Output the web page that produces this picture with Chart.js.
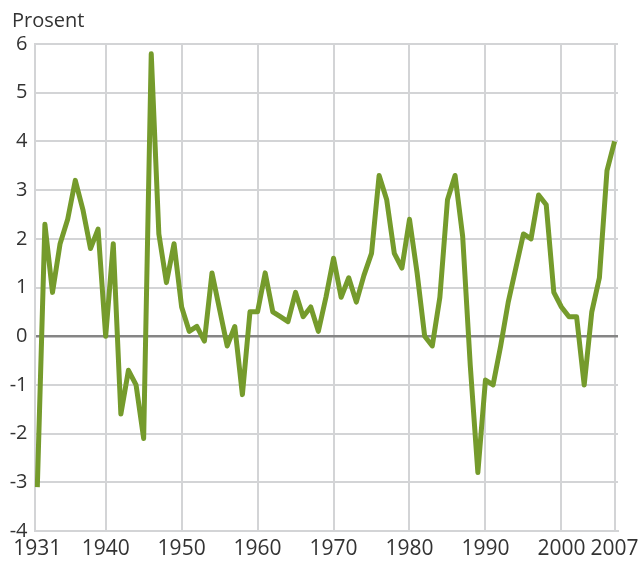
<!DOCTYPE html>
<html>
<head>
<meta charset="utf-8">
<script src="https://cdn.jsdelivr.net/npm/chart.js@4.4.0/dist/chart.umd.min.js"></script>
<style>
  html, body { margin: 0; padding: 0; background: #fff; }
  #wrap { width: 639px; height: 563px; }
</style>
</head>
<body>
<div id="wrap"><canvas id="chart" width="639" height="563"></canvas></div>
<script>
// Annual values, percent
const years = [];
for (let y = 1931; y <= 2007; y++) years.push(y);

const values = [
  -3.1, 2.3, 0.9, 1.9, 2.4, 3.2, 2.6, 1.8, 2.2,        // 1931-1939
   0.0, 1.9, -1.6, -0.7, -1.0, -2.1, 5.8, 2.1, 1.1, 1.9, // 1940-1949
   0.6, 0.1, 0.2, -0.1, 1.3, 0.55, -0.2, 0.2, -1.2, 0.5, // 1950-1959
   0.5, 1.3, 0.5, 0.4, 0.3, 0.9, 0.4, 0.6, 0.1, 0.8,     // 1960-1969
   1.6, 0.8, 1.2, 0.7, 1.25, 1.7, 3.3, 2.8, 1.7, 1.4,    // 1970-1979
   2.4, 1.3, 0.0, -0.2, 0.8, 2.8, 3.3, 2.05, -0.6, -2.8, // 1980-1989
  -0.9, -1.0, -0.2, 0.7, 1.4, 2.1, 2.0, 2.9, 2.7, 0.9,   // 1990-1999
   0.6, 0.4, 0.4, -1.0, 0.5, 1.2, 3.4, 4.0               // 2000-2007
];

const xTicks = [1931, 1940, 1950, 1960, 1970, 1980, 1990, 2000, 2007];
const yTicks = [-4, -3, -2, -1, 0, 1, 2, 3, 4, 5, 6];
const unitLabel = 'Prosent';

const gridColor = '#d3d4d6';
const zeroColor = '#858585';
const textColor = '#333333';
const lineColor = '#759b2c';

// Draw the unit label above the y axis
const unitPlugin = {
  id: 'unitLabel',
  afterDraw(chart) {
    const ctx = chart.ctx;
    ctx.save();
    ctx.fillStyle = textColor;
    ctx.font = "20px 'Open Sans', sans-serif";
    ctx.textAlign = 'left';
    ctx.textBaseline = 'alphabetic';
    ctx.fillText(unitLabel, 12, 27);
    ctx.restore();
  }
};

new Chart(document.getElementById('chart').getContext('2d'), {
  type: 'line',
  data: {
    datasets: [{
      data: years.map((yr, i) => ({ x: yr, y: values[i] })),
      borderColor: lineColor,
      borderWidth: 5,
      borderJoinStyle: 'round',
      borderCapStyle: 'butt',
      pointRadius: 0,
      tension: 0,
      fill: false
    }]
  },
  options: {
    responsive: false,
    animation: false,
    layout: { padding: { top: 44, right: 21, left: 0, bottom: 0 } },
    plugins: {
      legend: { display: false },
      tooltip: { enabled: false }
    },
    scales: {
      x: {
        type: 'linear',
        min: 1930.63,
        max: 2007.45,
        afterBuildTicks(axis) {
          axis.ticks = xTicks.map(v => ({ value: v }));
        },
        afterFit(axis) {
          axis.height = 32;
          axis.paddingLeft = 0;
          axis.paddingRight = 0;
        },
        grid: {
          drawTicks: false,
          lineWidth: 2,
          color: ctx => (ctx.tick && ctx.tick.value === 1931) ? 'rgba(0,0,0,0)' : gridColor
        },
        border: { display: true, color: gridColor, width: 2 },
        ticks: {
          color: textColor,
          padding: 5,
          maxRotation: 0,
          autoSkip: false,
          font: { size: 21, family: "'Open Sans', sans-serif" },
          callback: v => String(v)
        }
      },
      y: {
        min: -4,
        max: 6,
        afterBuildTicks(axis) {
          axis.ticks = yTicks.map(v => ({ value: v }));
        },
        afterFit(axis) {
          axis.width = 34.5;
          axis.paddingTop = 0;
          axis.paddingBottom = 0;
        },
        grid: {
          drawTicks: false,
          lineWidth: ctx => (ctx.tick && ctx.tick.value === 0) ? 2.5 : 2,
          color: ctx => (ctx.tick && ctx.tick.value === 0) ? zeroColor : gridColor
        },
        border: { display: true, color: gridColor, width: 2 },
        ticks: {
          color: textColor,
          padding: 7,
          font: { size: 20, family: "'Open Sans', sans-serif" }
        }
      }
    }
  },
  plugins: [unitPlugin]
});
</script>
</body>
</html>
